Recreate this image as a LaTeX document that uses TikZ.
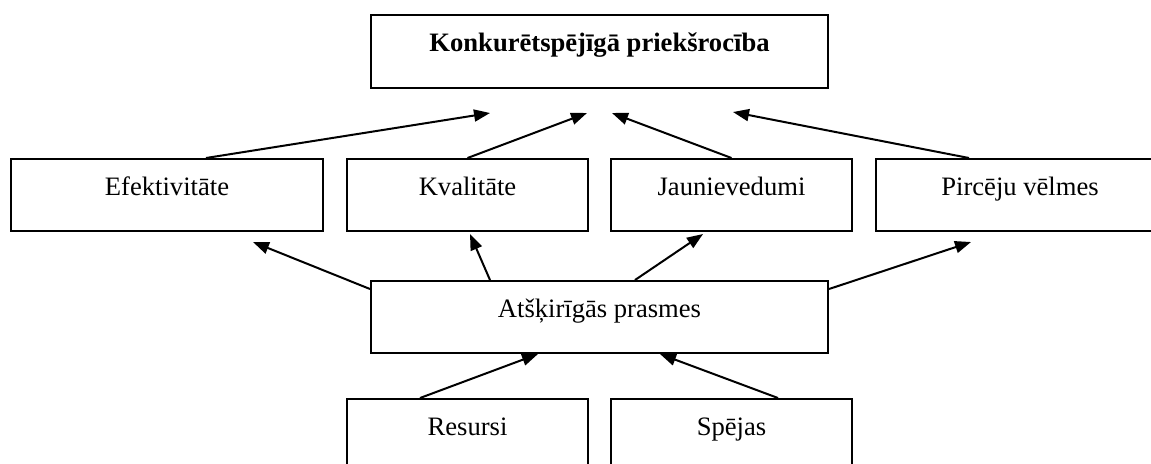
\documentclass[tikz,border=0pt]{standalone}
\usepackage{fontspec}
\setmainfont{Liberation Serif}
\usetikzlibrary{arrows.meta}

\begin{document}
\begin{tikzpicture}[x=0.5pt,y=-0.5pt,
	box/.style={shape=rectangle, draw, line width=1pt, inner sep=0pt,
		text height=6pt, text depth=6pt, minimum height=36pt,
		font=\fontsize{13.3}{15}\selectfont},
	>={Triangle[length=8pt,width=6pt]}]
	\clip (0,0) rectangle (1151,463);

	\node[box, minimum width=228.5pt, minimum height=36.5pt] (top) at (599.5,51.5) {\bfseries Konkurētspējīgā priekšrocība};

	\node[box, minimum width=156pt] (eff) at (167,195) {Efektivitāte};
	\node[box, minimum width=120.5pt] (kval) at (467.5,195) {Kvalitāte};
	\node[box, minimum width=120.5pt] (jaun) at (731.5,195) {Jaunievedumi};
	\node[box, minimum width=144pt] (pirc) at (1020,195) {Pircēju vēlmes};

	\node[box, minimum width=228.5pt] (atsk) at (599.5,317) {Atšķirīgās prasmes};

	\node[box, minimum width=120.5pt] (res) at (467.5,435) {Resursi};
	\node[box, minimum width=120.5pt] (spej) at (731.5,435) {Spējas};

	\coordinate (t1) at (490,113);
	\coordinate (t2) at (587,113);
	\coordinate (t3) at (612,113);
	\coordinate (t4) at (733,112);
	\coordinate (u1) at (253,242);
	\coordinate (u2) at (470,234);
	\coordinate (u3) at (703,234);
	\coordinate (u4) at (971,242);

	\path [->, line width=1pt] ([xshift=19.5pt]eff.north) edge (t1);
	\path [->, line width=1pt] (kval.north) edge (t2);
	\path [->, line width=1pt] (jaun.north) edge (t3);
	\path [->, line width=1pt] ([xshift=-25.5pt]pirc.north) edge (t4);

	\path [->, line width=1pt] ([yshift=-4.5pt]atsk.north west) edge (u1);
	\path [->, line width=1pt] ([xshift=-54.75pt]atsk.north) edge (u2);
	\path [->, line width=1pt] ([xshift=17.75pt]atsk.north) edge (u3);
	\path [->, line width=1pt] ([yshift=-4.5pt]atsk.north east) edge (u4);

	\path [->, line width=1pt] ([xshift=-23.75pt]res.north) edge ([xshift=-30.75pt]atsk.south);
	\path [->, line width=1pt] ([xshift=23.25pt]spej.north) edge ([xshift=30.25pt]atsk.south);
\end{tikzpicture}
\end{document}
